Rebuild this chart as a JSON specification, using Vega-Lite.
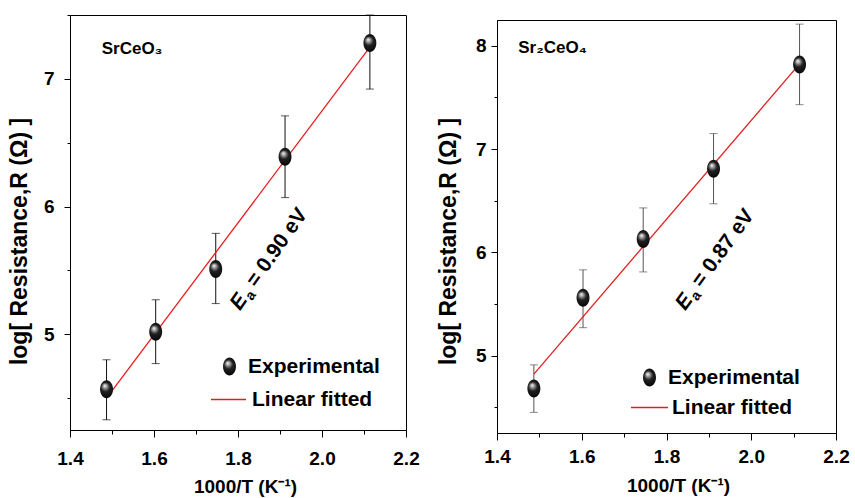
{
  "$schema": "https://vega.github.io/schema/vega-lite/v6.json",
  "background": "white",
  "padding": {"left": 7, "top": 14, "right": 0, "bottom": 0},
  "config": {
    "font": "Liberation Sans",
    "view": {"stroke": "black", "strokeWidth": 1},
    "axis": {
      "grid": false, "domainColor": "black", "tickColor": "black", "tickWidth": 1,
      "labelFont": "Liberation Sans", "labelFontSize": 19, "labelFontWeight": "bold", "labelColor": "black",
      "titleFont": "Liberation Sans", "titleFontSize": 19, "titleFontWeight": "bold", "titleColor": "black",
      "labelFlush": false, "labelOverlap": false
    },
    "legend": {"labelFont": "Liberation Sans", "labelFontSize": 21, "labelFontWeight": "bold", "labelColor": "black", "title": null},
    "text": {"font": "Liberation Sans", "color": "black"}
  },
  "datasets": {
    "ptsL": [
      {"x": 1.487, "y": 4.57, "lo": 4.33, "hi": 4.80, "series": "Experimental"},
      {"x": 1.604, "y": 5.02, "lo": 4.77, "hi": 5.27, "series": "Experimental"},
      {"x": 1.747, "y": 5.51, "lo": 5.24, "hi": 5.79, "series": "Experimental"},
      {"x": 1.912, "y": 6.39, "lo": 6.07, "hi": 6.71, "series": "Experimental"},
      {"x": 2.114, "y": 7.28, "lo": 6.92, "hi": 7.50, "series": "Experimental"}
    ],
    "fitL": [{"x": 1.487, "y": 4.50, "series": "Linear fitted"}, {"x": 2.113, "y": 7.245, "series": "Linear fitted"}],
    "ptsR": [
      {"x": 1.487, "y": 4.68, "lo": 4.45, "hi": 4.91, "series": "Experimental"},
      {"x": 1.603, "y": 5.56, "lo": 5.27, "hi": 5.83, "series": "Experimental"},
      {"x": 1.745, "y": 6.13, "lo": 5.81, "hi": 6.43, "series": "Experimental"},
      {"x": 1.911, "y": 6.81, "lo": 6.47, "hi": 7.15, "series": "Experimental"},
      {"x": 2.114, "y": 7.82, "lo": 7.43, "hi": 8.21, "series": "Experimental"}
    ],
    "fitR": [{"x": 1.487, "y": 4.82, "series": "Linear fitted"}, {"x": 2.113, "y": 7.82, "series": "Linear fitted"}],
    "nameL": [{"x": 1.4755, "y": 7.198, "name": "SrCeO₃"}],
    "nameR": [{"x": 1.450, "y": 7.932, "name": "Sr₂CeO₄"}],
    "annL": [{"x": 1.805, "y": 5.18, "e": "E", "sub": "a", "rest": "= 0.90 eV"}],
    "annR": [{"x": 1.844, "y": 5.43, "e": "E", "sub": "a", "rest": "= 0.87 eV"}]
  },
  "bounds": "flush",
  "spacing": 91,
  "resolve": {"scale": {"shape": "independent", "color": "independent"}, "legend": {"shape": "independent", "color": "independent"}},
  "hconcat": [
    {
      "width": 336, "height": 415,
      "layer": [
        {
          "data": {"name": "ptsL"},
          "mark": {"type": "rule", "color": "#111111", "strokeWidth": 1},
          "encoding": {
            "x": {"field": "x", "type": "quantitative", "scale": {"domain": [1.4, 2.2], "nice": false, "zero": false}, "title": "1000/T (K⁻¹)",
              "axis": {"values": [1.4, 1.5, 1.6, 1.7, 1.8, 1.9, 2.0, 2.1, 2.2], "labelExpr": "round(datum.value*10)%2==0 ? format(datum.value,'.1f') : ''", "tickSize": {"condition": {"test": "round(datum.value*10)%2==0", "value": 7}, "value": 4}, "labelPadding": 12, "titlePadding": 9, "titleX": 175}},
            "y": {"field": "lo", "type": "quantitative", "scale": {"domain": [4.25, 7.5], "nice": false, "zero": false}, "title": "log[ Resistance,R (Ω) ]",
              "axis": {"values": [4.5, 5, 5.5, 6, 6.5, 7, 7.5], "labelExpr": "datum.value%1==0 ? format(datum.value,'d') : ''", "labelFontSize": {"condition": {"test": "datum.value%1!=0", "value": 0}, "value": 19}, "tickSize": {"condition": {"test": "datum.value%1==0", "value": 6}, "value": 3}, "labelPadding": 10, "titlePadding": 12, "titleFontSize": 23, "titleY": 226}},
            "y2": {"field": "hi"}
          }
        },
        {
          "data": {"name": "ptsL"},
          "mark": {"type": "tick", "orient": "horizontal", "color": "#111111", "size": 8, "thickness": 1},
          "encoding": {
            "x": {"field": "x", "type": "quantitative", "scale": {"domain": [1.4, 2.2], "nice": false, "zero": false}, "title": "1000/T (K⁻¹)"},
            "y": {"field": "lo", "type": "quantitative", "scale": {"domain": [4.25, 7.5], "nice": false, "zero": false}, "title": "log[ Resistance,R (Ω) ]"}
          }
        },
        {
          "data": {"name": "ptsL"},
          "mark": {"type": "tick", "orient": "horizontal", "color": "#111111", "size": 8, "thickness": 1},
          "encoding": {
            "x": {"field": "x", "type": "quantitative", "scale": {"domain": [1.4, 2.2], "nice": false, "zero": false}, "title": "1000/T (K⁻¹)"},
            "y": {"field": "hi", "type": "quantitative", "scale": {"domain": [4.25, 7.5], "nice": false, "zero": false}, "title": "log[ Resistance,R (Ω) ]"}
          }
        },
        {
          "data": {"name": "fitL"},
          "mark": {"type": "line", "strokeWidth": 1.3},
          "encoding": {
            "x": {"field": "x", "type": "quantitative", "scale": {"domain": [1.4, 2.2], "nice": false, "zero": false}, "title": "1000/T (K⁻¹)"},
            "y": {"field": "y", "type": "quantitative", "scale": {"domain": [4.25, 7.5], "nice": false, "zero": false}, "title": "log[ Resistance,R (Ω) ]"},
            "color": {"field": "series", "type": "nominal", "scale": {"domain": ["Linear fitted"], "range": ["#e41e1e"]},
              "legend": {"orient": "none", "legendX": 140, "legendY": 366, "symbolType": "stroke", "symbolSize": 1225, "symbolStrokeWidth": 1.3, "labelOffset": 5}}
          }
        },
        {
          "data": {"name": "ptsL"},
          "mark": {"type": "point", "filled": true, "size": 324, "opacity": 1,
            "fill": {"gradient": "radial", "x1": 0.4, "y1": 0.3, "r1": 0, "x2": 0.5, "y2": 0.5, "r2": 0.6, "stops": [{"offset": 0, "color": "#ffffff"}, {"offset": 0.15, "color": "#b0b0b0"}, {"offset": 0.42, "color": "#202020"}, {"offset": 1, "color": "#000000"}]}},
          "encoding": {
            "x": {"field": "x", "type": "quantitative", "scale": {"domain": [1.4, 2.2], "nice": false, "zero": false}, "title": "1000/T (K⁻¹)"},
            "y": {"field": "y", "type": "quantitative", "scale": {"domain": [4.25, 7.5], "nice": false, "zero": false}, "title": "log[ Resistance,R (Ω) ]"},
            "shape": {"field": "series", "type": "nominal",
              "scale": {"domain": ["Experimental"], "range": ["M0,-1A0.72,1,0,1,1,0,1A0.72,1,0,1,1,0,-1Z"]},
              "legend": {"orient": "none", "legendX": 149, "legendY": 341, "symbolSize": 324, "labelOffset": 8}}
          }
        },
        {
          "data": {"name": "nameL"},
          "mark": {"type": "text", "align": "left", "baseline": "alphabetic", "fontSize": 17, "fontWeight": "bold"},
          "encoding": {
            "x": {"field": "x", "type": "quantitative", "scale": {"domain": [1.4, 2.2], "nice": false, "zero": false}, "title": "1000/T (K⁻¹)"},
            "y": {"field": "y", "type": "quantitative", "scale": {"domain": [4.25, 7.5], "nice": false, "zero": false}, "title": "log[ Resistance,R (Ω) ]"},
            "text": {"field": "name"}
          }
        },
        {
          "data": {"name": "annL"},
          "mark": {"type": "text", "align": "left", "baseline": "alphabetic", "fontSize": 21, "fontWeight": "bold", "fontStyle": "italic", "angle": 305},
          "encoding": {
            "x": {"field": "x", "type": "quantitative", "scale": {"domain": [1.4, 2.2], "nice": false, "zero": false}, "title": "1000/T (K⁻¹)"},
            "y": {"field": "y", "type": "quantitative", "scale": {"domain": [4.25, 7.5], "nice": false, "zero": false}, "title": "log[ Resistance,R (Ω) ]"},
            "text": {"field": "e"}
          }
        },
        {
          "data": {"name": "annL"},
          "mark": {"type": "text", "align": "left", "baseline": "alphabetic", "fontSize": 14, "fontWeight": "bold", "angle": 305, "dx": 15, "dy": 4},
          "encoding": {
            "x": {"field": "x", "type": "quantitative", "scale": {"domain": [1.4, 2.2], "nice": false, "zero": false}, "title": "1000/T (K⁻¹)"},
            "y": {"field": "y", "type": "quantitative", "scale": {"domain": [4.25, 7.5], "nice": false, "zero": false}, "title": "log[ Resistance,R (Ω) ]"},
            "text": {"field": "sub"}
          }
        },
        {
          "data": {"name": "annL"},
          "mark": {"type": "text", "align": "left", "baseline": "alphabetic", "fontSize": 21, "fontWeight": "bold", "angle": 305, "dx": 28},
          "encoding": {
            "x": {"field": "x", "type": "quantitative", "scale": {"domain": [1.4, 2.2], "nice": false, "zero": false}, "title": "1000/T (K⁻¹)"},
            "y": {"field": "y", "type": "quantitative", "scale": {"domain": [4.25, 7.5], "nice": false, "zero": false}, "title": "log[ Resistance,R (Ω) ]"},
            "text": {"field": "rest"}
          }
        }
      ]
    },
    {
      "bounds": "flush",
      "spacing": 0,
      "vconcat": [
        {
          "width": 339, "height": 5,
          "view": {"stroke": null},
          "data": {"values": [{}]},
          "mark": {"type": "point", "opacity": 0},
          "encoding": {}
        },
        {
          "width": 339, "height": 413,
          "layer": [
            {
              "data": {"name": "ptsR"},
              "mark": {"type": "rule", "color": "#555555", "strokeWidth": 1},
              "encoding": {
                "x": {"field": "x", "type": "quantitative", "scale": {"domain": [1.4, 2.2], "nice": false, "zero": false}, "title": "1000/T (K⁻¹)",
                  "axis": {"values": [1.4, 1.5, 1.6, 1.7, 1.8, 1.9, 2.0, 2.1, 2.2], "labelExpr": "round(datum.value*10)%2==0 ? format(datum.value,'.1f') : ''", "tickSize": {"condition": {"test": "round(datum.value*10)%2==0", "value": 7}, "value": 4}, "labelPadding": 7, "titlePadding": 10, "titleX": 181}},
                "y": {"field": "lo", "type": "quantitative", "scale": {"domain": [4.25, 8.25], "nice": false, "zero": false}, "title": "log[ Resistance,R (Ω) ]",
                  "axis": {"values": [4.5, 5, 5.5, 6, 6.5, 7, 7.5, 8], "labelExpr": "datum.value%1==0 ? format(datum.value,'d') : ''", "labelFontSize": {"condition": {"test": "datum.value%1!=0", "value": 0}, "value": 19}, "tickSize": {"condition": {"test": "datum.value%1==0", "value": 6}, "value": 3}, "labelPadding": 5, "titlePadding": 15, "titleFontSize": 23, "titleY": 221}},
                "y2": {"field": "hi"}
              }
            },
            {
              "data": {"name": "ptsR"},
              "mark": {"type": "tick", "orient": "horizontal", "color": "#555555", "size": 8, "thickness": 1},
              "encoding": {
                "x": {"field": "x", "type": "quantitative", "scale": {"domain": [1.4, 2.2], "nice": false, "zero": false}, "title": "1000/T (K⁻¹)"},
                "y": {"field": "lo", "type": "quantitative", "scale": {"domain": [4.25, 8.25], "nice": false, "zero": false}, "title": "log[ Resistance,R (Ω) ]"}
              }
            },
            {
              "data": {"name": "ptsR"},
              "mark": {"type": "tick", "orient": "horizontal", "color": "#555555", "size": 8, "thickness": 1},
              "encoding": {
                "x": {"field": "x", "type": "quantitative", "scale": {"domain": [1.4, 2.2], "nice": false, "zero": false}, "title": "1000/T (K⁻¹)"},
                "y": {"field": "hi", "type": "quantitative", "scale": {"domain": [4.25, 8.25], "nice": false, "zero": false}, "title": "log[ Resistance,R (Ω) ]"}
              }
            },
            {
              "data": {"name": "fitR"},
              "mark": {"type": "line", "strokeWidth": 1.3},
              "encoding": {
                "x": {"field": "x", "type": "quantitative", "scale": {"domain": [1.4, 2.2], "nice": false, "zero": false}, "title": "1000/T (K⁻¹)"},
                "y": {"field": "y", "type": "quantitative", "scale": {"domain": [4.25, 8.25], "nice": false, "zero": false}, "title": "log[ Resistance,R (Ω) ]"},
                "color": {"field": "series", "type": "nominal", "scale": {"domain": ["Linear fitted"], "range": ["#e41e1e"]},
                  "legend": {"orient": "none", "legendX": 133, "legendY": 373, "symbolType": "stroke", "symbolSize": 1369, "symbolStrokeWidth": 1.3, "labelOffset": 3}}
              }
            },
            {
              "data": {"name": "ptsR"},
              "mark": {"type": "point", "filled": true, "size": 324, "opacity": 1,
                "fill": {"gradient": "radial", "x1": 0.4, "y1": 0.3, "r1": 0, "x2": 0.5, "y2": 0.5, "r2": 0.6, "stops": [{"offset": 0, "color": "#ffffff"}, {"offset": 0.15, "color": "#b0b0b0"}, {"offset": 0.42, "color": "#202020"}, {"offset": 1, "color": "#000000"}]}},
              "encoding": {
                "x": {"field": "x", "type": "quantitative", "scale": {"domain": [1.4, 2.2], "nice": false, "zero": false}, "title": "1000/T (K⁻¹)"},
                "y": {"field": "y", "type": "quantitative", "scale": {"domain": [4.25, 8.25], "nice": false, "zero": false}, "title": "log[ Resistance,R (Ω) ]"},
                "shape": {"field": "series", "type": "nominal",
                  "scale": {"domain": ["Experimental"], "range": ["M0,-1A0.72,1,0,1,1,0,1A0.72,1,0,1,1,0,-1Z"]},
                  "legend": {"orient": "none", "legendX": 142, "legendY": 352, "symbolSize": 324, "labelOffset": 8}}
              }
            },
            {
              "data": {"name": "nameR"},
              "mark": {"type": "text", "align": "left", "baseline": "alphabetic", "fontSize": 17, "fontWeight": "bold"},
              "encoding": {
                "x": {"field": "x", "type": "quantitative", "scale": {"domain": [1.4, 2.2], "nice": false, "zero": false}, "title": "1000/T (K⁻¹)"},
                "y": {"field": "y", "type": "quantitative", "scale": {"domain": [4.25, 8.25], "nice": false, "zero": false}, "title": "log[ Resistance,R (Ω) ]"},
                "text": {"field": "name"}
              }
            },
            {
              "data": {"name": "annR"},
              "mark": {"type": "text", "align": "left", "baseline": "alphabetic", "fontSize": 21, "fontWeight": "bold", "fontStyle": "italic", "angle": 306},
              "encoding": {
                "x": {"field": "x", "type": "quantitative", "scale": {"domain": [1.4, 2.2], "nice": false, "zero": false}, "title": "1000/T (K⁻¹)"},
                "y": {"field": "y", "type": "quantitative", "scale": {"domain": [4.25, 8.25], "nice": false, "zero": false}, "title": "log[ Resistance,R (Ω) ]"},
                "text": {"field": "e"}
              }
            },
            {
              "data": {"name": "annR"},
              "mark": {"type": "text", "align": "left", "baseline": "alphabetic", "fontSize": 14, "fontWeight": "bold", "angle": 306, "dx": 15, "dy": 4},
              "encoding": {
                "x": {"field": "x", "type": "quantitative", "scale": {"domain": [1.4, 2.2], "nice": false, "zero": false}, "title": "1000/T (K⁻¹)"},
                "y": {"field": "y", "type": "quantitative", "scale": {"domain": [4.25, 8.25], "nice": false, "zero": false}, "title": "log[ Resistance,R (Ω) ]"},
                "text": {"field": "sub"}
              }
            },
            {
              "data": {"name": "annR"},
              "mark": {"type": "text", "align": "left", "baseline": "alphabetic", "fontSize": 21, "fontWeight": "bold", "angle": 306, "dx": 28},
              "encoding": {
                "x": {"field": "x", "type": "quantitative", "scale": {"domain": [1.4, 2.2], "nice": false, "zero": false}, "title": "1000/T (K⁻¹)"},
                "y": {"field": "y", "type": "quantitative", "scale": {"domain": [4.25, 8.25], "nice": false, "zero": false}, "title": "log[ Resistance,R (Ω) ]"},
                "text": {"field": "rest"}
              }
            }
          ]
        }
      ]
    }
  ]
}
